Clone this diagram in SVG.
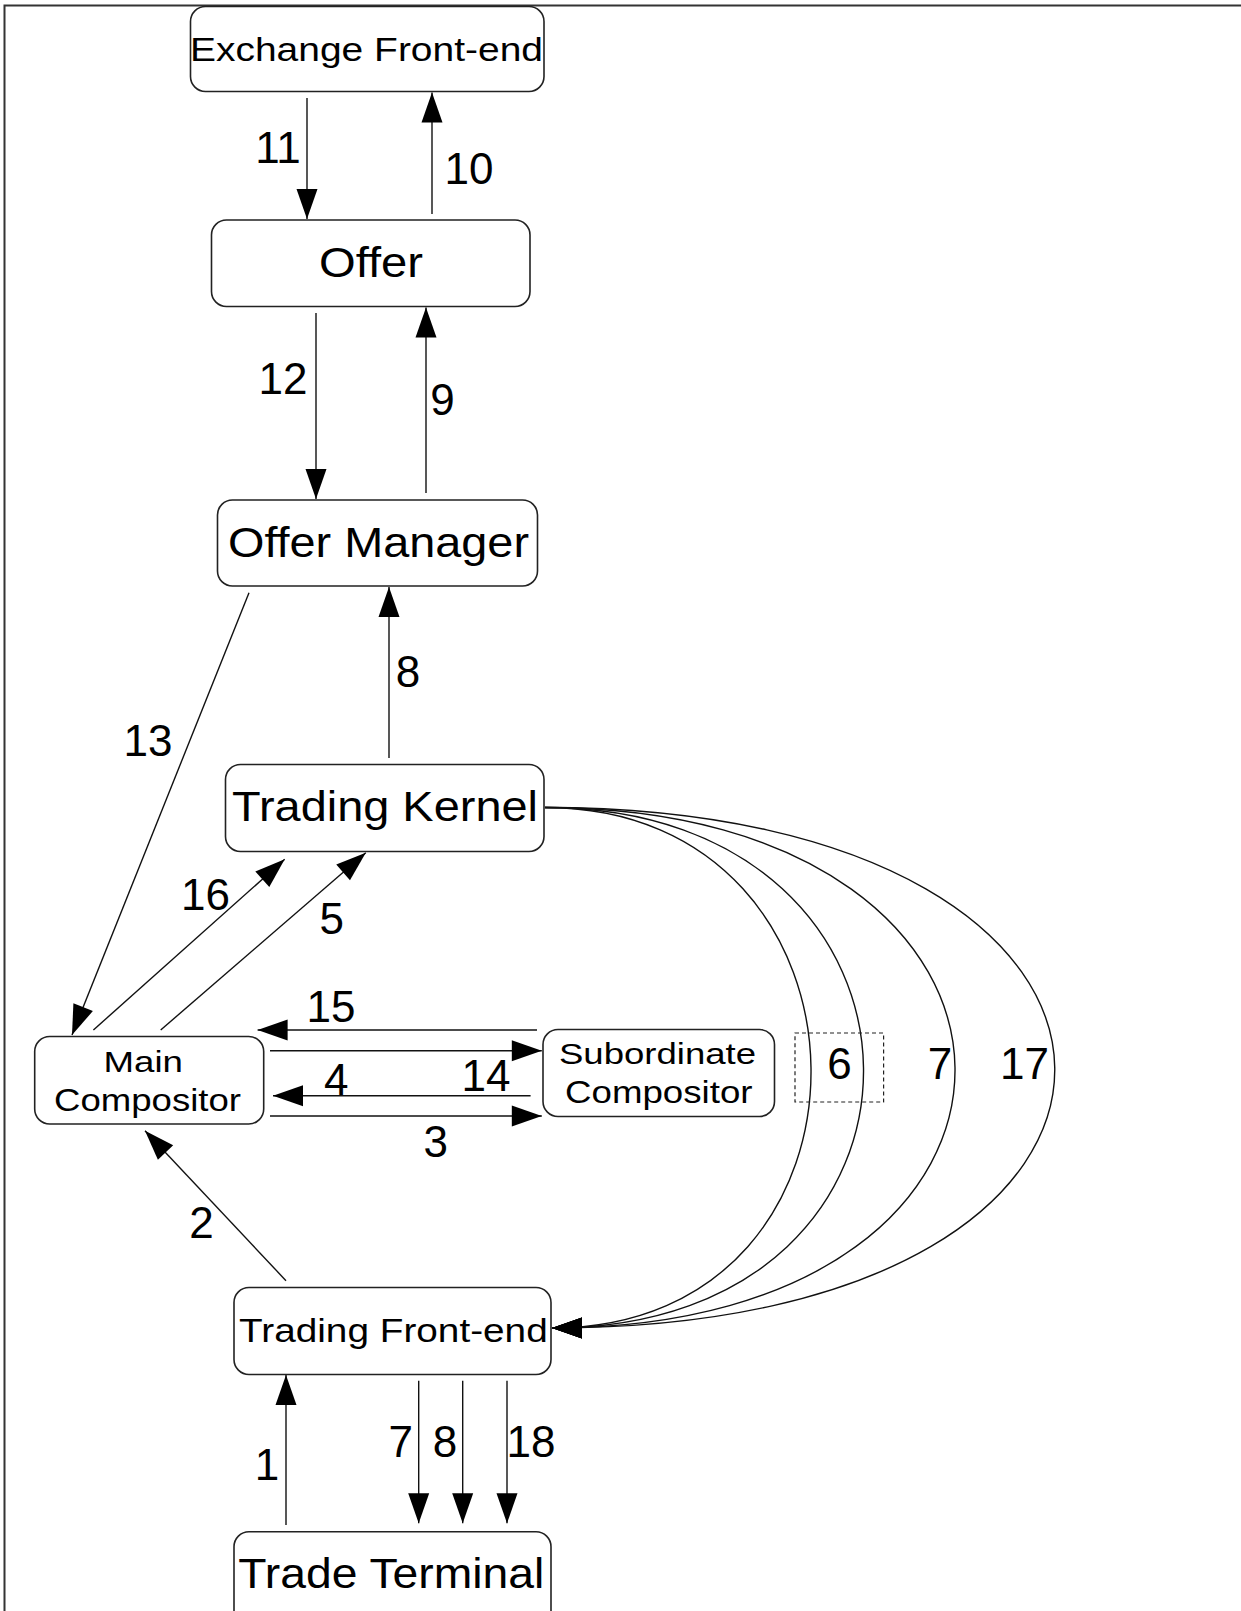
<svg xmlns="http://www.w3.org/2000/svg" width="1241" height="1611" viewBox="0 0 1241 1611">
<style>
.box{fill:#fff;stroke:#222;stroke-width:1.6}
.nt{font-family:"Liberation Sans",Arial,sans-serif;fill:#000}
.lbl{font-family:"Liberation Sans",Arial,sans-serif;font-size:44px;fill:#000;text-anchor:middle}
.c{fill:none;stroke:#111;stroke-width:1.4}
.frame{stroke:#333;stroke-width:2;fill:none}
</style>
<defs>
<marker id="ah" markerUnits="userSpaceOnUse" markerWidth="32" markerHeight="22" refX="30" refY="10.5" orient="auto" overflow="visible">
<path d="M0,0 L30,10.5 L0,21 Z" fill="#000"/>
</marker>
</defs>
<rect width="1241" height="1611" fill="#fff"/>
<path class="frame" d="M4.5,1611 L4.5,5.5 L1241,5.5"/>

<g id="connectors">
<line class="c" x1="307" y1="98" x2="307" y2="219" marker-end="url(#ah)"/>
<line class="c" x1="432" y1="214" x2="432" y2="92.5" marker-end="url(#ah)"/>
<line class="c" x1="316" y1="313" x2="316" y2="499" marker-end="url(#ah)"/>
<line class="c" x1="426" y1="493" x2="426" y2="307.5" marker-end="url(#ah)"/>
<line class="c" x1="389" y1="758" x2="389" y2="587" marker-end="url(#ah)"/>
<line class="c" x1="249" y1="592.7" x2="72" y2="1035" marker-end="url(#ah)"/>
<line class="c" x1="93.4" y1="1030" x2="284.7" y2="859.3" marker-end="url(#ah)"/>
<line class="c" x1="160.7" y1="1030" x2="365.8" y2="852.7" marker-end="url(#ah)"/>
<line class="c" x1="537" y1="1030" x2="257.6" y2="1030" marker-end="url(#ah)"/>
<line class="c" x1="270" y1="1050.7" x2="541.8" y2="1050.7" marker-end="url(#ah)"/>
<line class="c" x1="530.6" y1="1095.7" x2="273" y2="1095.7" marker-end="url(#ah)"/>
<line class="c" x1="270" y1="1116" x2="541.8" y2="1116" marker-end="url(#ah)"/>
<line class="c" x1="286" y1="1280.7" x2="145" y2="1130.7" marker-end="url(#ah)"/>
<line class="c" x1="286" y1="1525" x2="286" y2="1375" marker-end="url(#ah)"/>
<line class="c" x1="418.7" y1="1380.7" x2="418.7" y2="1523.3" marker-end="url(#ah)"/>
<line class="c" x1="462.7" y1="1380.7" x2="462.7" y2="1523.3" marker-end="url(#ah)"/>
<line class="c" x1="507" y1="1380.7" x2="507" y2="1523.3" marker-end="url(#ah)"/>
<path class="c" d="M545,807.5 C895,807.5 902,1328 552,1328" marker-end="url(#ah)"/>
<path class="c" d="M545,807.5 C965,807.5 972,1328 552,1328" marker-end="url(#ah)"/>
<path class="c" d="M545,807.5 C1087,807.5 1094,1328 552,1328" marker-end="url(#ah)"/>
<path class="c" d="M545,807.5 C1220,807.5 1227,1328 552,1328" marker-end="url(#ah)"/>
<rect x="795" y="1033" width="88.6" height="69" fill="none" stroke="#222" stroke-width="1.2" stroke-dasharray="4,3"/>
<text class="lbl" x="278" y="163">11</text>
<text class="lbl" x="469" y="184">10</text>
<text class="lbl" x="283" y="394">12</text>
<text class="lbl" x="442.5" y="415">9</text>
<text class="lbl" x="408" y="687">8</text>
<text class="lbl" x="148" y="756">13</text>
<text class="lbl" x="205.5" y="910">16</text>
<text class="lbl" x="331.7" y="934">5</text>
<text class="lbl" x="331" y="1021.7">15</text>
<text class="lbl" x="486" y="1090.7">14</text>
<text class="lbl" x="336.2" y="1095">4</text>
<text class="lbl" x="435.7" y="1156.7">3</text>
<text class="lbl" x="839.6" y="1079">6</text>
<text class="lbl" x="940" y="1079">7</text>
<text class="lbl" x="1024.5" y="1079">17</text>
<text class="lbl" x="201.6" y="1238.3">2</text>
<text class="lbl" x="267" y="1480">1</text>
<text class="lbl" x="400.8" y="1456.7">7</text>
<text class="lbl" x="445" y="1456.7">8</text>
<text class="lbl" x="531" y="1456.7">18</text>
</g>

<g id="exchange-front-end">
<rect class="box" x="190.5" y="6.5" width="353.5" height="85" rx="15"/>
<text class="nt" x="190" y="60.7" font-size="34" textLength="353" lengthAdjust="spacingAndGlyphs">Exchange Front-end</text>
</g>
<g id="offer">
<rect class="box" x="211.5" y="220" width="318.5" height="86.5" rx="15"/>
<text class="nt" x="319" y="277" font-size="42" textLength="104" lengthAdjust="spacingAndGlyphs">Offer</text>
</g>
<g id="offer-manager">
<rect class="box" x="217.5" y="500" width="320" height="86" rx="15"/>
<text class="nt" x="228" y="556.7" font-size="43" textLength="301" lengthAdjust="spacingAndGlyphs">Offer Manager</text>
</g>
<g id="trading-kernel">
<rect class="box" x="225.5" y="764.5" width="318.5" height="87" rx="15"/>
<text class="nt" x="232" y="821" font-size="43" textLength="306" lengthAdjust="spacingAndGlyphs">Trading Kernel</text>
</g>
<g id="main-compositor">
<rect class="box" x="34.7" y="1036.5" width="229" height="87.5" rx="15"/>
<text class="nt" x="103.6" y="1071.7" font-size="30" textLength="79.4" lengthAdjust="spacingAndGlyphs">Main</text>
<text class="nt" x="54" y="1111" font-size="31" textLength="187" lengthAdjust="spacingAndGlyphs">Compositor</text>
</g>
<g id="subordinate-compositor">
<rect class="box" x="543" y="1029.5" width="231.5" height="87" rx="15"/>
<text class="nt" x="559" y="1064" font-size="30" textLength="197" lengthAdjust="spacingAndGlyphs">Subordinate</text>
<text class="nt" x="565" y="1103" font-size="31" textLength="187.5" lengthAdjust="spacingAndGlyphs">Compositor</text>
</g>
<g id="trading-front-end">
<rect class="box" x="234" y="1287.5" width="317" height="87" rx="15"/>
<text class="nt" x="239" y="1341.7" font-size="32.5" textLength="308.7" lengthAdjust="spacingAndGlyphs">Trading Front-end</text>
</g>
<g id="trade-terminal">
<rect class="box" x="234" y="1531.7" width="317" height="110" rx="15"/>
<text class="nt" x="238.3" y="1588.3" font-size="43" textLength="306" lengthAdjust="spacingAndGlyphs">Trade Terminal</text>
</g>
</svg>
